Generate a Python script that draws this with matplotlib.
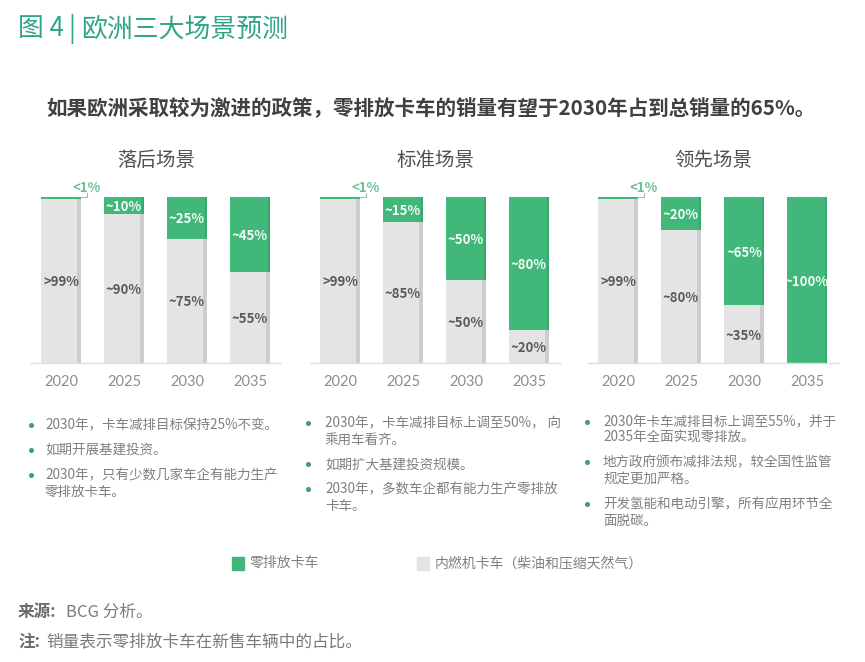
import matplotlib
matplotlib.use("Agg")
import matplotlib.pyplot as plt
from matplotlib.lines import Line2D

plt.rcParams['font.family'] = ['Noto Sans CJK SC', 'DejaVu Sans']

W, H = 865, 662
GREEN = '#41b87a'
GREY = '#e4e4e4'
GREY_EDGE = '#cdcdcd'
GREEN_EDGE = '#38a86e'
TITLE_GREEN = '#2fa586'
NOTE_GREY = '#808080'

years = ['2020', '2025', '2030', '2035']
scenario_names = ['落后场景', '标准场景', '领先场景']

zero_lag = [1, 10, 25, 45]
zero_std = [1, 15, 50, 80]
zero_lead = [1, 20, 65, 100]
ice_lag = [99, 90, 75, 55]
ice_std = [99, 85, 50, 20]
ice_lead = [99, 80, 35, 0]

zero_labels_lag = ['<1%', '~10%', '~25%', '~45%']
zero_labels_std = ['<1%', '~15%', '~50%', '~80%']
zero_labels_lead = ['<1%', '~20%', '~65%', '~100%']
ice_labels_lag = ['>99%', '~90%', '~75%', '~55%']
ice_labels_std = ['>99%', '~85%', '~50%', '~20%']
ice_labels_lead = ['>99%', '~80%', '~35%', '']

notes_lag = [['2030年，卡车减排目标保持25%不变。'],
             ['如期开展基建投资。'],
             ['2030年，只有少数几家车企有能力生产', '零排放卡车。']]
notes_std = [['2030年，卡车减排目标上调至50%， 向', '乘用车看齐。'],
             ['如期扩大基建投资规模。'],
             ['2030年，多数车企都有能力生产零排放', '卡车。']]
notes_lead = [['2030年卡车减排目标上调至55%，并于', '2035年全面实现零排放。'],
              ['地方政府颁布减排法规，较全国性监管', '规定更加严格。'],
              ['开发氢能和电动引擎，所有应用环节全', '面脱碳。']]


def px_text(x, y, s, **kw):
    # x, y in image pixels, y from the top
    kw.setdefault('va', 'center')
    return fig.text(x / W, 1 - y / H, s, **kw)


def draw_panel(left, name, zero, ice, zero_labels, ice_labels):
    # left is the pixel position of the first bar
    step, width = 63, 40
    x0 = left - 10
    x1 = left + 240
    ax = fig.add_axes([x0 / W, 1 - 363 / H, (x1 - x0) / W, 166 / H])
    ax.set_xlim((x0 - left - width / 2) / step, (x1 - left - width / 2) / step)
    ax.set_ylim(0, 100)
    pos = list(range(len(years)))
    w = width / step
    strip = 4 / step
    shift = 1  # glyphs sit a little high when centred

    ax.bar(pos, ice, w, color=GREY, zorder=2)
    ax.bar(pos, zero, w, bottom=ice, color=GREEN, zorder=2, clip_on=False)
    for i in pos:
        if ice[i] > 0:
            ax.bar(i + w / 2 - strip / 2, ice[i], strip, color=GREY_EDGE, zorder=3)
        if zero[i] > 1:
            ax.bar(i + w / 2 - strip / 4, zero[i], strip / 2, bottom=ice[i], color=GREEN_EDGE, zorder=3)

    for i in pos:
        if ice_labels[i]:
            ax.text(i, ice[i] / 2 - shift, ice_labels[i], ha='center', va='center', fontsize=9.5,
                    fontweight='bold', color='#5a5a5a', zorder=4)
        if i == 0:
            # small callout above the first bar
            ax.plot([i + w / 2, i + w / 2 + 0.09, i + w / 2 + 0.09], [100, 100, 102.5],
                    color='#8fc9ab', lw=0.8, clip_on=False, zorder=4)
            ax.text(i + w / 2 + 0.09, 105.5, zero_labels[i], ha='center', va='center', fontsize=9.5,
                    fontweight='bold', color='#6cc096')
        else:
            ax.text(i, ice[i] + zero[i] / 2 - shift, zero_labels[i], ha='center', va='center', fontsize=9.5,
                    fontweight='bold', color='#f2faf5', zorder=4)

    ax.set_xticks(pos)
    ax.set_xticklabels(years, fontsize=10.5, color='#8c8c8c', family='Lato')
    ax.tick_params(axis='x', length=0, pad=9)
    ax.set_yticks([])
    for side in ['top', 'left', 'right']:
        ax.spines[side].set_visible(False)
    ax.spines['bottom'].set_color('#e0e0e0')
    ax.spines['bottom'].set_linewidth(1.0)
    px_text(left + 115, 160, name, ha='center', fontsize=14, color='#505050')


def draw_notes(bullet_x, text_x, groups, rows):
    # rows holds the pixel row of every text line
    r = 0
    for group in groups:
        fig.add_artist(Line2D([bullet_x / W], [1 - rows[r] / H], marker='o', ms=2.6, color='#3f9d78',
                              transform=fig.transFigure))
        for line in group:
            px_text(text_x, rows[r], line, fontsize=9.75, color=NOTE_GREY)
            r += 1


fig = plt.figure(figsize=(W / 100, H / 100), dpi=100, facecolor='white')

px_text(18, 29, '图 4', fontsize=18.6, color=TITLE_GREEN)
px_text(68, 29, '|', fontsize=18.6, color=TITLE_GREEN)
px_text(81, 29, '欧洲三大场景预测', fontsize=18.6, color=TITLE_GREEN)
px_text(46, 109, '如果欧洲采取较为激进的政策，零排放卡车的销量有望于2030年占到总销量的65%。',
        fontsize=14.8, fontweight='bold', color='#404040')

draw_panel(41, scenario_names[0], zero_lag, ice_lag, zero_labels_lag, ice_labels_lag)
draw_panel(320, scenario_names[1], zero_std, ice_std, zero_labels_std, ice_labels_std)
draw_panel(598, scenario_names[2], zero_lead, ice_lead, zero_labels_lead, ice_labels_lead)

draw_notes(31, 45, notes_lag, [425, 450, 475, 492])
draw_notes(308, 325, notes_std, [423, 440, 464, 489, 506])
draw_notes(587, 603, notes_lead, [422, 438, 462, 479, 504, 521])

fig.add_artist(plt.Rectangle((232 / W, 1 - 570 / H), 12 / W, 13 / H, color=GREEN,
                             transform=fig.transFigure))
px_text(250, 563, '零排放卡车', fontsize=10, color=NOTE_GREY)
fig.add_artist(plt.Rectangle((417 / W, 1 - 570 / H), 12 / W, 13 / H, color=GREY,
                             transform=fig.transFigure))
px_text(435, 563, '内燃机卡车（柴油和压缩天然气）', fontsize=10, color=NOTE_GREY)

px_text(18, 612, '来源:', fontsize=12, fontweight='bold', color='#6a6a6a')
px_text(66, 612, 'BCG 分析。', fontsize=12, color='#7a7a7a')
px_text(18, 642, '注:', fontsize=12, fontweight='bold', color='#6a6a6a')
px_text(46, 642, '销量表示零排放卡车在新售车辆中的占比。', fontsize=12, color='#7a7a7a')

fig.savefig('out.png', dpi=100)
